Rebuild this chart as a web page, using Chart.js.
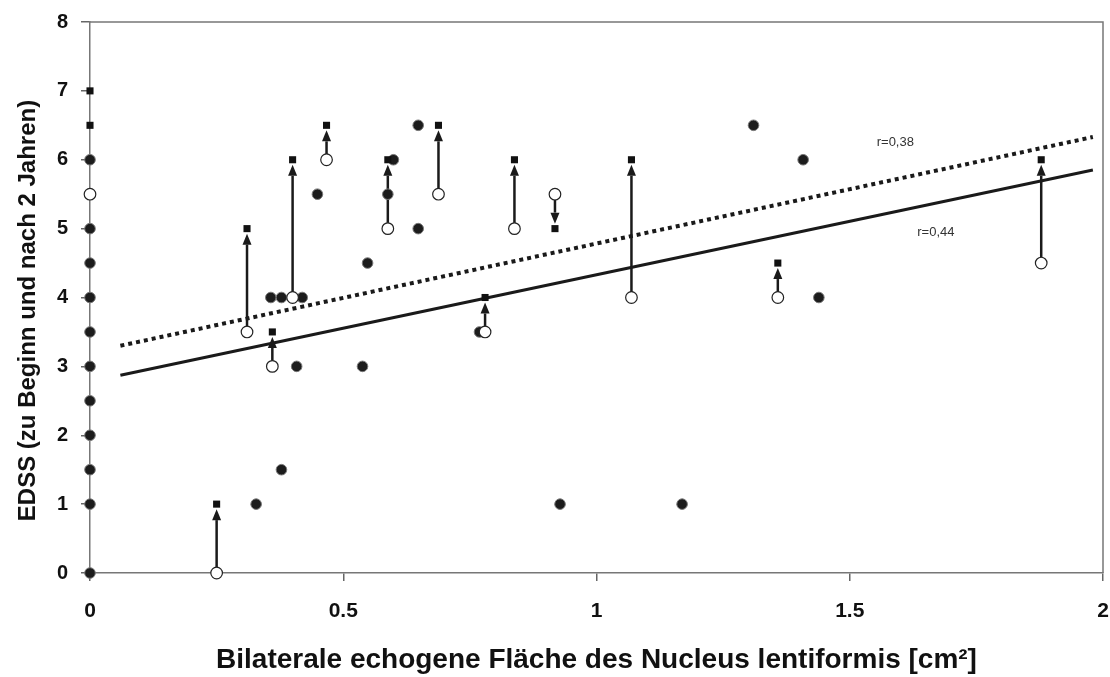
<html>
  <head>
    <script src="https://cdn.jsdelivr.net/npm/chart.js"></script>
    <meta charset="UTF-8" />
    <style>
      body { margin: 0; background: #fff; }
      #wrap { width: 1110px; height: 677px; }
    </style>
  </head>
  <body>
    <div id="wrap"><canvas id="myChart"></canvas></div>
    <script>
      // patients with change over 2 years: area, EDSS at start, EDSS after 2 years
      const arrowX = [0.25, 0.31, 0.36, 0.40, 0.467, 0.588, 0.688, 0.78, 0.838, 0.918, 1.069, 1.358, 1.878];
      const edssStart = [0, 3.5, 3, 4, 6, 5, 5.5, 3.5, 5, 5.5, 4, 4, 4.5];
      const edssAfter = [1, 5, 3.5, 6, 6.5, 6, 6.5, 4, 6, 5, 6, 4.5, 6];

      // extra single markers on the y axis
      const openExtraX = [0];
      const openExtraY = [5.5];
      const squareExtraX = [0, 0];
      const squareExtraY = [6.5, 7];

      // unchanged EDSS (filled)
      const filledX = [0, 0, 0, 0, 0, 0, 0, 0, 0, 0, 0,
        0.328, 0.378, 0.408, 0.357, 0.378, 0.419, 0.449, 0.548, 0.538, 0.648,
        0.648, 0.599, 0.588, 0.769, 0.928, 1.169, 1.31, 1.408, 1.439];
      const filledY = [0, 1, 1.5, 2, 2.5, 3, 3.5, 4, 4.5, 5, 6,
        1, 1.5, 3, 4, 4, 4, 5.5, 4.5, 3, 6.5,
        5, 6, 5.5, 3.5, 1, 1, 6.5, 6, 4];

      // regression lines
      const trendX = [0.06, 1.98];
      const trendSolidY = [2.87, 5.85];
      const trendDottedY = [3.30, 6.33];
      const rLabels = ["r=0,38", "r=0,44"];
      const rLabelX = [1.59, 1.67];
      const rLabelY = [6.25, 4.95];

      const xTicks = [0, 0.5, 1, 1.5, 2];
      const xTitle = "Bilaterale echogene Fläche des Nucleus lentiformis [cm²]";
      const yTitle = "EDSS (zu Beginn und nach 2 Jahren)";

      const pts = (xs, ys) => xs.map((x, i) => ({ x: x, y: ys[i] }));

      const arrowPlugin = {
        id: "arrows",
        beforeDatasetsDraw(chart) {
          const ctx = chart.ctx;
          const xs = chart.scales.x, ys = chart.scales.y;
          ctx.save();
          ctx.strokeStyle = "#1a1a1a";
          ctx.fillStyle = "#1a1a1a";
          ctx.lineWidth = 2.5;
          arrowX.forEach((v, i) => {
            const px = xs.getPixelForValue(v);
            const y0 = ys.getPixelForValue(edssStart[i]);
            const y1 = ys.getPixelForValue(edssAfter[i]);
            const dir = y1 > y0 ? 1 : -1;
            const tip = y1 - dir * 5;
            const base = tip - dir * 11;
            ctx.beginPath();
            ctx.moveTo(px, y0);
            ctx.lineTo(px, base);
            ctx.stroke();
            ctx.beginPath();
            ctx.moveTo(px, tip);
            ctx.lineTo(px - 4.5, base);
            ctx.lineTo(px + 4.5, base);
            ctx.closePath();
            ctx.fill();
          });
          ctx.restore();
        },
        afterDraw(chart) {
          const ctx = chart.ctx;
          const a = chart.chartArea;
          ctx.save();
          // top and right frame
          ctx.strokeStyle = "#777";
          ctx.lineWidth = 1.5;
          ctx.beginPath();
          ctx.moveTo(a.left, a.top);
          ctx.lineTo(a.right, a.top);
          ctx.lineTo(a.right, a.bottom);
          ctx.stroke();
          // r labels
          ctx.fillStyle = "#333";
          ctx.font = "13px 'Liberation Sans', Arial, sans-serif";
          ctx.textAlign = "center";
          ctx.textBaseline = "middle";
          rLabels.forEach((t, i) => {
            ctx.fillText(t, chart.scales.x.getPixelForValue(rLabelX[i]), chart.scales.y.getPixelForValue(rLabelY[i]));
          });
          // axis titles
          ctx.fillStyle = "#111";
          ctx.font = "bold 28px 'Liberation Sans', Arial, sans-serif";
          ctx.textBaseline = "alphabetic";
          ctx.fillText(xTitle, (a.left + a.right) / 2, a.bottom + 95);
          ctx.translate(28, (a.top + a.bottom) / 2 + 13);
          ctx.rotate(-Math.PI / 2);
          ctx.font = "bold 24px 'Liberation Sans', Arial, sans-serif";
          ctx.textBaseline = "middle";
          ctx.fillText(yTitle, 0, 0);
          ctx.restore();
        },
      };

      Chart.defaults.font.family = "'Liberation Sans', Arial, sans-serif";
      Chart.defaults.color = "#111";

      const config = {
        type: "scatter",
        data: {
          datasets: [
            {
              label: "nach 2 Jahren",
              data: pts(arrowX, edssAfter).concat(pts(squareExtraX, squareExtraY)),
              pointStyle: "rect",
              pointRadius: 5,
              backgroundColor: "#111",
              borderColor: "#111",
              borderWidth: 0,
              clip: false,
              order: 0,
            },
            {
              label: "zu Beginn",
              data: pts(arrowX, edssStart).concat(pts(openExtraX, openExtraY)),
              pointStyle: "circle",
              pointRadius: 5.8,
              backgroundColor: "#fff",
              borderColor: "#222",
              borderWidth: 1.2,
              clip: false,
              order: 1,
            },
            {
              label: "unverändert",
              data: pts(filledX, filledY),
              pointStyle: "circle",
              pointRadius: 5.3,
              backgroundColor: "#1c1c1c",
              borderColor: "#777",
              borderWidth: 1,
              clip: false,
              order: 2,
            },
            {
              label: "r=0,38",
              type: "line",
              data: pts(trendX, trendDottedY),
              borderColor: "#1a1a1a",
              borderWidth: 4,
              borderDash: [4, 4],
              pointRadius: 0,
              fill: false,
              order: 3,
            },
            {
              label: "r=0,44",
              type: "line",
              data: pts(trendX, trendSolidY),
              borderColor: "#1a1a1a",
              borderWidth: 3,
              pointRadius: 0,
              fill: false,
              order: 3,
            },
          ],
        },
        options: {
          responsive: true,
          maintainAspectRatio: false,
          animation: false,
          layout: { padding: { top: 22, right: 7, left: 0, bottom: 0 } },
          plugins: { legend: { display: false }, tooltip: { enabled: false } },
          scales: {
            x: {
              type: "linear",
              min: 0,
              max: 2,
              afterBuildTicks: (s) => { s.ticks = xTicks.map((v) => ({ value: v })); },
              afterFit: (s) => { s.height = 104; s.paddingLeft = 0; s.paddingRight = 0; },
              ticks: {
                font: { size: 21, weight: "bold" },
                padding: 18,
                color: "#111",
                callback: (v) => String(v),
              },
              grid: { drawOnChartArea: false, tickLength: 8, color: "#666", lineWidth: 1.5 },
              border: { color: "#777", width: 1.5 },
            },
            y: {
              min: 0,
              max: 8,
              ticks: { stepSize: 1, font: { size: 20, weight: "bold" }, padding: 13, color: "#111" },
              afterFit: (s) => { s.width = 90; s.paddingTop = 0; s.paddingBottom = 0; },
              grid: { drawOnChartArea: false, tickLength: 9, color: "#666", lineWidth: 1.5 },
              border: { color: "#777", width: 1.5 },
            },
          },
        },
        plugins: [arrowPlugin],
      };

      new Chart(document.getElementById("myChart"), config);
    </script>
  </body>
</html>
